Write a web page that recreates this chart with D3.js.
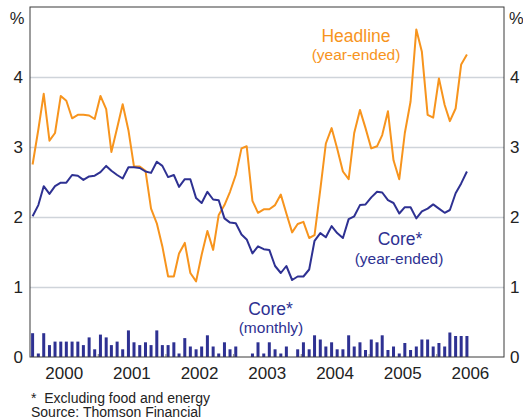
<!DOCTYPE html>
<html>
<head>
<meta charset="utf-8">
<script src="https://cdn.jsdelivr.net/npm/d3@7"></script>
<style>
  body { margin: 0; background: #fff; }
  svg { font-family: "Liberation Sans", Arial, sans-serif; }
</style>
</head>
<body>
<svg width="523" height="420"></svg>
<script>
// monthly observations, Jan 2000 - Jun 2006
var months = d3.range(78).map(function(i) { return new Date(2000, i, 15); });

var headline = [
  2.75, 3.25, 3.76, 3.09, 3.20, 3.73, 3.66, 3.41, 3.46, 3.46, 3.45, 3.40,
  3.73, 3.54, 2.93, 3.27, 3.61, 3.24, 2.72, 2.72, 2.66, 2.12, 1.91, 1.58,
  1.15, 1.15, 1.48, 1.63, 1.20, 1.08, 1.46, 1.80, 1.53, 2.03, 2.17, 2.36,
  2.60, 2.98, 3.01, 2.23, 2.06, 2.11, 2.11, 2.17, 2.32, 2.05, 1.78, 1.90,
  1.93, 1.70, 1.74, 2.39, 3.05, 3.27, 2.98, 2.65, 2.54, 3.20, 3.53, 3.27,
  2.98, 3.01, 3.17, 3.51, 2.81, 2.54, 3.20, 3.65, 4.68, 4.36, 3.46, 3.42,
  3.98, 3.60, 3.37, 3.55, 4.18, 4.32
];

var coreYear = [
  2.01, 2.17, 2.44, 2.33, 2.44, 2.49, 2.49, 2.60, 2.59, 2.53, 2.58, 2.59,
  2.64, 2.73, 2.66, 2.60, 2.55, 2.71, 2.71, 2.70, 2.65, 2.63, 2.79, 2.73,
  2.57, 2.60, 2.43, 2.54, 2.54, 2.27, 2.20, 2.36, 2.25, 2.24, 1.98, 1.92,
  1.91, 1.75, 1.68, 1.48, 1.58, 1.54, 1.53, 1.30, 1.20, 1.30, 1.10, 1.15,
  1.15, 1.25, 1.66, 1.77, 1.71, 1.87, 1.77, 1.70, 1.97, 2.01, 2.17, 2.18,
  2.28, 2.36, 2.35, 2.24, 2.20, 2.05, 2.14, 2.14, 1.98, 2.08, 2.12, 2.18,
  2.12, 2.06, 2.10, 2.34, 2.48, 2.65
];

var coreMonth = [
  0.34, 0.05, 0.34, 0.17, 0.22, 0.22, 0.22, 0.22, 0.22, 0.17, 0.28, 0.11,
  0.32, 0.28, 0.17, 0.22, 0.11, 0.38, 0.21, 0.17, 0.21, 0.17, 0.38, 0.17,
  0.17, 0.21, 0.05, 0.27, 0.15, 0.11, 0.15, 0.31, 0.15, 0.05, 0.21, 0.11,
  0.15, 0, 0, 0.05, 0.21, 0.05, 0.21, 0.11, 0.05, 0.15, 0, 0.11,
  0.21, 0.11, 0.31, 0.25, 0.15, 0.21, 0.11, 0.11, 0.31, 0.15, 0.21, 0.10,
  0.25, 0.21, 0.31, 0.10, 0.15, 0.05, 0.20, 0.10, 0.15, 0.25, 0.25, 0.15,
  0.20, 0.15, 0.35, 0.30, 0.30, 0.30
];

var years = [2000, 2001, 2002, 2003, 2004, 2005, 2006];
var yTicks = [0, 1, 2, 3, 4];

var orange = "#f7941d", blue = "#2e3192";

var svg = d3.select("svg"),
    plotL = 30, plotR = 504, plotT = 7, plotB = 357;

var x = d3.scaleTime()
  .domain([new Date(2000, 0, 1), new Date(2007, 0, 1)])
  .range([plotL, plotR]);

var y = d3.scaleLinear()
  .domain([0, 5])
  .range([plotB, plotT]);

// gridlines
var grid = svg.append("g")
  .attr("transform", "translate(" + plotL + ",0)")
  .call(d3.axisLeft(y).tickValues([1, 2, 3, 4]).tickSize(-(plotR - plotL)).tickFormat(""));
grid.select(".domain").remove();
grid.selectAll("line").attr("stroke", "#cfd4da").attr("stroke-width", 1.5);

// monthly core bars
svg.selectAll(".bar")
  .data(coreMonth)
  .enter().append("rect")
  .attr("class", "bar")
  .attr("x", function(d, i) { return x(months[i]) - 1.5; })
  .attr("y", function(d) { return y(d); })
  .attr("width", 3)
  .attr("height", function(d) { return plotB - y(d); })
  .attr("fill", blue);

// year boundary ticks
var yb = svg.append("g")
  .attr("transform", "translate(0," + plotB + ")")
  .call(d3.axisBottom(x)
    .tickValues(years.slice(1).map(function(yy) { return new Date(yy, 0, 1); }))
    .tickSize(-3).tickFormat(""));
yb.select(".domain").remove();
yb.selectAll("line").attr("stroke", "#8a8a8a").attr("stroke-width", 1.2);

// lines
var line = d3.line()
  .x(function(d, i) { return x(months[i]); })
  .y(function(d) { return y(d); });

svg.append("path")
  .datum(headline)
  .attr("d", line)
  .attr("fill", "none")
  .attr("stroke", orange)
  .attr("stroke-width", 2)
  .attr("stroke-linejoin", "round");

svg.append("path")
  .datum(coreYear)
  .attr("d", line)
  .attr("fill", "none")
  .attr("stroke", blue)
  .attr("stroke-width", 2)
  .attr("stroke-linejoin", "round");

// frame
svg.append("rect")
  .attr("x", plotL).attr("y", plotT)
  .attr("width", plotR - plotL).attr("height", plotB - plotT)
  .attr("fill", "none")
  .attr("stroke", "#3a3a3a")
  .attr("stroke-width", 1);

// axes labels
var yl = svg.append("g")
  .attr("transform", "translate(" + plotL + ",0)")
  .call(d3.axisLeft(y).tickValues(yTicks).tickFormat(d3.format("d")).tickSize(0).tickPadding(7));
var yr = svg.append("g")
  .attr("transform", "translate(" + plotR + ",0)")
  .call(d3.axisRight(y).tickValues(yTicks).tickFormat(d3.format("d")).tickSize(0).tickPadding(6));
var xl = svg.append("g")
  .attr("transform", "translate(0," + plotB + ")")
  .call(d3.axisBottom(x)
    .tickValues(years.map(function(yy) { return new Date(yy, 6, 1); }))
    .tickFormat(d3.timeFormat("%Y"))
    .tickSize(0).tickPadding(10));

[yl, yr, xl].forEach(function(a) {
  a.select(".domain").remove();
  a.selectAll("text")
    .attr("font-family", "'Liberation Sans', Arial, sans-serif")
    .attr("font-size", 17)
    .attr("fill", "#222");
});

svg.append("text").attr("x", 17).attr("y", 24)
  .attr("text-anchor", "middle").attr("font-size", 16.5).attr("fill", "#222").text("%");
svg.append("text").attr("x", 509).attr("y", 24)
  .attr("font-size", 16.5).attr("fill", "#222").text("%");

// series labels
function label(txt, cx, by, size, color) {
  svg.append("text")
    .attr("x", cx).attr("y", by)
    .attr("text-anchor", "middle")
    .attr("font-size", size)
    .attr("fill", color)
    .text(txt);
}
label("Headline", 356, 42, 17.5, orange);
label("(year-ended)", 356, 60, 15.5, orange);
label("Core*", 400, 245, 17.5, blue);
label("(year-ended)", 399, 263.5, 15.5, blue);
label("Core*", 270.5, 315, 17.5, blue);
label("(monthly)", 271, 333, 15.5, blue);

// footnotes
svg.append("text").attr("x", 31).attr("y", 402.5)
  .attr("font-size", 14).attr("fill", "#222")
  .attr("xml:space", "preserve")
  .text("*  Excluding food and energy");
svg.append("text").attr("x", 31).attr("y", 417)
  .attr("font-size", 14).attr("fill", "#222")
  .text("Source: Thomson Financial");
</script>
</body>
</html>
